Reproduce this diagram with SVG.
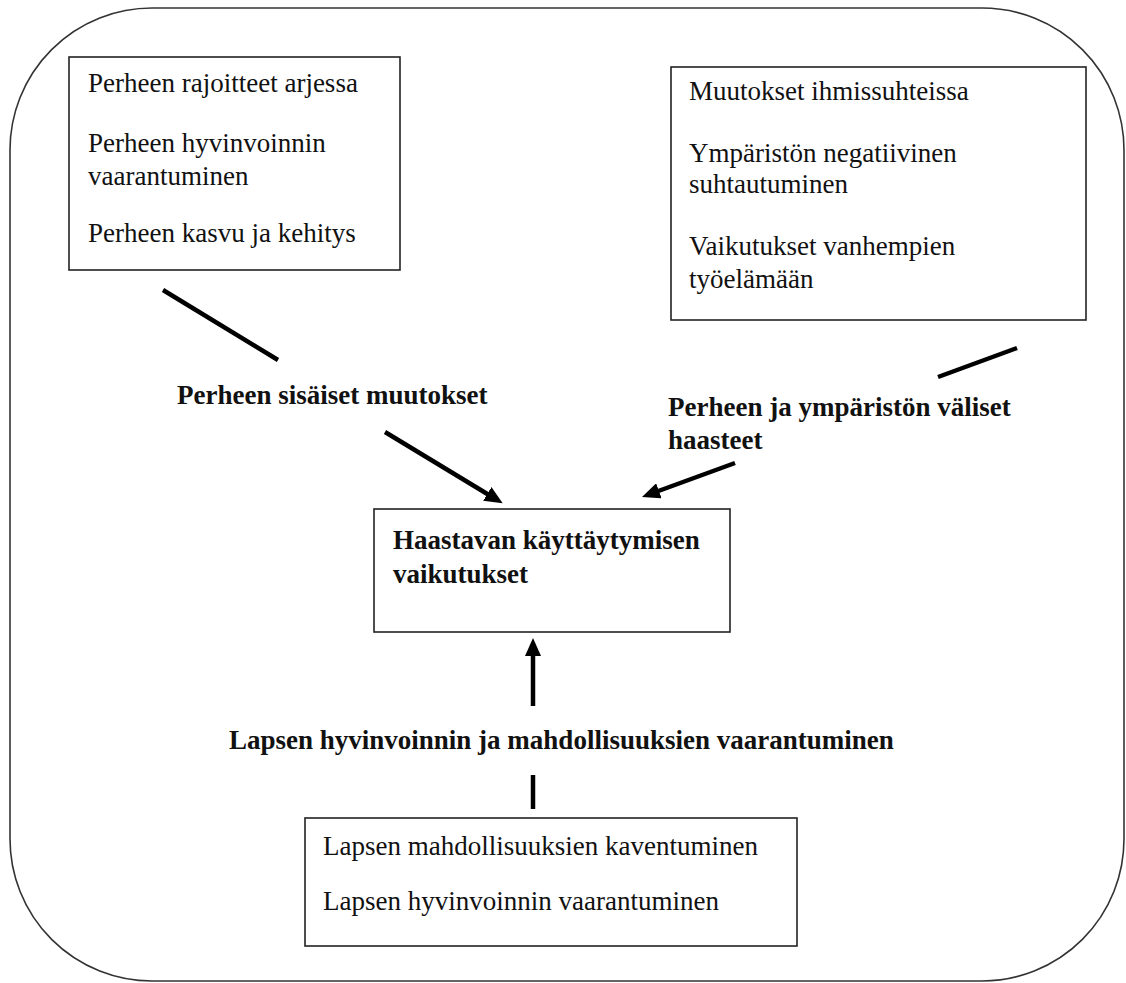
<svg xmlns="http://www.w3.org/2000/svg" width="1126" height="983" viewBox="0 0 1126 983">
<defs>
<style>
.frame{fill:#fff;stroke:#333;stroke-width:1.6}
.box{fill:#fff;stroke:#222;stroke-width:1.6}
.t{font-family:"Liberation Serif","Times New Roman",serif;font-size:27px;fill:#111}
.b{font-family:"Liberation Serif","Times New Roman",serif;font-size:27px;font-weight:bold;fill:#111}
.c{stroke:#000;stroke-width:4.5;fill:none}
</style>
<marker id="ah" markerUnits="userSpaceOnUse" markerWidth="18" markerHeight="16" viewBox="0 -8 18 16" refX="2" refY="0" orient="auto">
<path d="M0,-8 L18,0 L0,8 z" fill="#000"/>
</marker>
</defs>
<rect width="1126" height="983" fill="#fff"/>
<rect id="frame" class="frame" x="10" y="8" width="1114" height="973" rx="142" ry="142"/>

<g id="connectors">
<line class="c" x1="163" y1="290" x2="278" y2="360"/>
<line class="c" x1="385" y1="432" x2="489" y2="495" marker-end="url(#ah)"/>
<line class="c" x1="1017" y1="348" x2="938" y2="377"/>
<line class="c" x1="735" y1="463" x2="657" y2="491.5" marker-end="url(#ah)"/>
<line class="c" x1="533" y1="706" x2="533" y2="654" marker-end="url(#ah)"/>
<line class="c" x1="533" y1="775" x2="533" y2="809"/>
</g>

<g id="node-perhe-sisa">
<rect class="box" x="69" y="57" width="331" height="213"/>
<text class="t" x="88" y="92">Perheen rajoitteet arjessa</text>
<text class="t" x="88" y="152">Perheen hyvinvoinnin</text>
<text class="t" x="88" y="185">vaarantuminen</text>
<text class="t" x="88" y="242">Perheen kasvu ja kehitys</text>
</g>

<g id="node-ymparisto">
<rect class="box" x="671" y="67" width="415" height="253"/>
<text class="t" x="689" y="100">Muutokset ihmissuhteissa</text>
<text class="t" x="689" y="162">Ympäristön negatiivinen</text>
<text class="t" x="689" y="193">suhtautuminen</text>
<text class="t" x="689" y="255">Vaikutukset vanhempien</text>
<text class="t" x="689" y="288">työelämään</text>
</g>

<g id="label-sisaiset">
<text class="b" x="177" y="404">Perheen sisäiset muutokset</text>
</g>

<g id="label-valiset">
<text class="b" x="668" y="416">Perheen ja ympäristön väliset</text>
<text class="b" x="668" y="449">haasteet</text>
</g>

<g id="node-haastava">
<rect class="box" x="374" y="509" width="356" height="123"/>
<text class="b" x="393" y="549">Haastavan käyttäytymisen</text>
<text class="b" x="393" y="583">vaikutukset</text>
</g>

<g id="label-lapsi">
<text class="b" x="229" y="749">Lapsen hyvinvoinnin ja mahdollisuuksien vaarantuminen</text>
</g>

<g id="node-lapsi">
<rect class="box" x="305" y="818" width="492" height="128"/>
<text class="t" x="323" y="855">Lapsen mahdollisuuksien kaventuminen</text>
<text class="t" x="323" y="910">Lapsen hyvinvoinnin vaarantuminen</text>
</g>
</svg>
